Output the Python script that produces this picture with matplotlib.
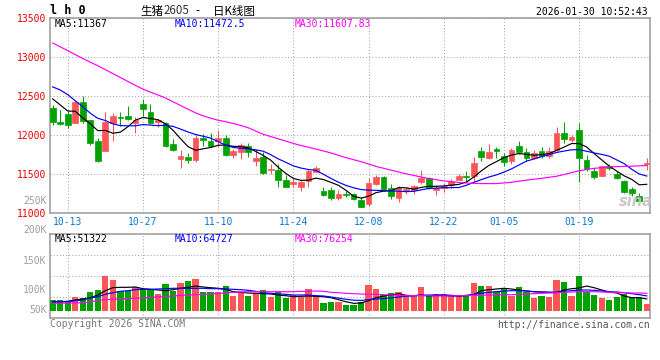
import matplotlib
matplotlib.use("Agg")
import matplotlib.pyplot as plt

plt.rcParams['font.family'] = ['DejaVu Sans Mono']

# ---------------- data ----------------
dates = ["10-09", "10-10", "10-13", "10-14", "10-15", "10-16", "10-17", "10-20", "10-21", "10-22",
         "10-23", "10-24", "10-27", "10-28", "10-29", "10-30", "10-31", "11-03", "11-04", "11-05",
         "11-06", "11-07", "11-10", "11-11", "11-12", "11-13", "11-14", "11-17", "11-18", "11-19",
         "11-20", "11-21", "11-24", "11-25", "11-26", "11-27", "11-28", "12-01", "12-02", "12-03",
         "12-04", "12-05", "12-08", "12-09", "12-10", "12-11", "12-12", "12-15", "12-16", "12-17",
         "12-18", "12-19", "12-22", "12-23", "12-24", "12-25", "12-26", "12-29", "12-30", "12-31",
         "01-05", "01-06", "01-07", "01-08", "01-09", "01-12", "01-13", "01-14", "01-15", "01-16",
         "01-19", "01-20", "01-21", "01-22", "01-23", "01-26", "01-27", "01-28", "01-29", "01-30"]

opens = [12338, 12162, 12261, 12150, 12415, 12184, 11915, 11791, 12145, 12231,
         12235, 12150, 12389, 12286, 12158, 12145, 11876, 11688, 11722, 11675,
         11957, 11923, 11915, 11953, 11739, 11774, 11859, 11667, 11722, 11551,
         11556, 11427, 11376, 11338, 11410, 11530, 11286, 11299, 11188, 11248,
         11248, 11171, 11120, 11376, 11462, 11325, 11188, 11282, 11291, 11393,
         11453, 11295, 11325, 11355, 11427, 11479, 11470, 11799, 11701, 11816,
         11731, 11662, 11863, 11782, 11709, 11799, 11726, 11803, 12017, 11932,
         12056, 11684, 11543, 11470, 11607, 11504, 11410, 11303, 11218, 11624]
highs = [12380, 12316, 12308, 12427, 12492, 12190, 11953, 12286, 12278, 12286,
         12363, 12231, 12457, 12393, 12201, 12167, 11940, 11812, 11765, 11996,
         12009, 12017, 12060, 12000, 11816, 11889, 11889, 11816, 11774, 11624,
         11624, 11487, 11462, 11423, 11560, 11603, 11329, 11329, 11295, 11278,
         11261, 11205, 11444, 11483, 11474, 11376, 11342, 11329, 11359, 11555,
         11462, 11359, 11389, 11440, 11504, 11538, 11718, 11838, 11876, 11838,
         11765, 11829, 11927, 11825, 11808, 11846, 11838, 12094, 12158, 11996,
         12145, 11744, 11581, 11607, 11632, 11538, 11419, 11333, 11261, 11701]
lows = [12124, 12124, 12085, 12145, 12145, 11868, 11650, 11791, 11915, 12115,
        12188, 12017, 12244, 12137, 12103, 11846, 11799, 11573, 11637, 11654,
        11859, 11838, 11838, 11735, 11705, 11688, 11722, 11598, 11504, 11504,
        11338, 11333, 11338, 11282, 11338, 11526, 11218, 11162, 11162, 11205,
        11162, 11073, 11090, 11359, 11282, 11175, 11145, 11248, 11248, 11367,
        11312, 11230, 11274, 11325, 11418, 11402, 11402, 11667, 11688, 11709,
        11598, 11632, 11752, 11671, 11692, 11701, 11701, 11799, 11897, 11906,
        11397, 11538, 11432, 11470, 11547, 11432, 11261, 11214, 11150, 11547]
closes = [12162, 12137, 12124, 12415, 12175, 11893, 11667, 12158, 12235, 12209,
          12197, 12192, 12329, 12150, 12184, 11859, 11803, 11735, 11675, 11957,
          11932, 11855, 11953, 11748, 11799, 11868, 11774, 11701, 11513, 11560,
          11427, 11338, 11402, 11402, 11538, 11581, 11235, 11197, 11248, 11231,
          11175, 11077, 11389, 11457, 11303, 11214, 11325, 11303, 11350, 11444,
          11325, 11325, 11346, 11410, 11479, 11462, 11645, 11718, 11786, 11795,
          11658, 11812, 11774, 11709, 11765, 11726, 11799, 12021, 11940, 11974,
          11701, 11568, 11462, 11607, 11573, 11453, 11273, 11261, 11150, 11641]

ma5 = [12459, 12382, 12304, 12301, 12215, 12140, 12053, 12056, 12020, 12034,
       12103, 12188, 12222, 12208, 12193, 12141, 12058, 11950, 11848, 11802,
       11821, 11838, 11866, 11870, 11853, 11849, 11834, 11787, 11736, 11675,
       11584, 11506, 11442, 11418, 11419, 11446, 11428, 11392, 11354, 11290,
       11215, 11190, 11215, 11260, 11280, 11284, 11325, 11322, 11305, 11327,
       11341, 11341, 11346, 11356, 11366, 11395, 11460, 11539, 11608, 11657,
       11707, 11741, 11760, 11750, 11738, 11747, 11759, 11800, 11843, 11888,
       11888, 11844, 11760, 11680, 11600, 11536, 11475, 11430, 11360, 11367]
ma10 = [12613, 12573, 12514, 12435, 12359, 12276, 12210, 12183, 12140, 12117,
        12115, 12115, 12131, 12124, 12117, 12122, 12108, 12073, 12036, 12004,
        11982, 11958, 11912, 11867, 11838, 11828, 11820, 11808, 11790, 11745,
        11692, 11648, 11603, 11575, 11556, 11546, 11495, 11442, 11394, 11353,
        11323, 11300, 11292, 11290, 11287, 11283, 11278, 11273, 11277, 11296,
        11313, 11318, 11324, 11324, 11326, 11354, 11392, 11427, 11460, 11487,
        11523, 11564, 11614, 11663, 11691, 11721, 11747, 11774, 11792, 11808,
        11810, 11790, 11768, 11749, 11727, 11679, 11631, 11559, 11499, 11472.5]
ma30 = [13174, 13125, 13076, 13025, 12975, 12929, 12883, 12833, 12783, 12733,
        12682, 12632, 12584, 12546, 12509, 12471, 12422, 12375, 12327, 12281,
        12242, 12213, 12186, 12167, 12145, 12120, 12090, 12048, 12006, 11977,
        11948, 11919, 11890, 11864, 11841, 11818, 11793, 11768, 11737, 11708,
        11682, 11657, 11626, 11595, 11572, 11548, 11524, 11501, 11481, 11460,
        11441, 11426, 11411, 11400, 11390, 11384, 11379, 11376, 11376, 11376,
        11384, 11393, 11406, 11420, 11432, 11443, 11457, 11470, 11492, 11517,
        11539, 11556, 11571, 11580, 11590, 11593, 11596, 11599, 11603, 11607.83]

volume = [46800, 46800, 36700, 58600, 54200, 81700, 90500, 151600, 134200, 86100,
          86100, 102300, 90500, 94800, 71700, 116700, 86100, 122400, 129800, 138500,
          83000, 83000, 80400, 107900, 64200, 80400, 65600, 76000, 90500, 61200,
          83000, 56800, 68600, 61200, 93500, 64200, 35000, 38000, 38000, 24900,
          24900, 39300, 112300, 94800, 68600, 76000, 81700, 68600, 65600, 103600,
          68600, 71700, 71700, 65600, 65600, 65600, 122400, 107900, 107900, 83000,
          93500, 65600, 103600, 83000, 54200, 65600, 61200, 134200, 126700, 65600,
          151600, 80400, 68600, 55500, 46800, 61200, 71700, 54200, 58600, 29300]
vol_ma5 = [39300, 39300, 41100, 46800, 51100, 56800, 68600, 87400, 100500, 102200,
           102200, 103600, 96100, 93500, 90500, 87400, 91800, 97900, 102200, 107900,
           103600, 100500, 97900, 93500, 83000, 80400, 77300, 76000, 74300, 73000,
           68600, 65600, 61200, 62900, 64200, 62900, 61200, 56800, 48100, 39300,
           32300, 33600, 43700, 56800, 64200, 68600, 74300, 67300, 65600, 68600,
           64200, 67300, 67300, 64200, 64200, 65600, 69900, 87400, 91800, 94800,
           97900, 94800, 90500, 86100, 83000, 81700, 80400, 78700, 90500, 96100,
           99200, 107900, 100500, 90500, 81700, 77300, 64200, 56800, 56800, 51322]
vol_ma10 = [39300, 39300, 39300, 43700, 46800, 55500, 61200, 71700, 78700, 84800,
            87400, 91800, 93500, 93500, 94800, 96100, 97900, 97900, 97900, 97900,
            97900, 96100, 96100, 94800, 93500, 91800, 89100, 84800, 78700, 76000,
            73000, 71700, 68600, 68600, 68600, 65600, 64200, 60000, 55000, 50000,
            46000, 45000, 48000, 51000, 53000, 56000, 59900, 62900, 65600, 67300,
            68600, 68600, 68600, 67300, 64200, 67300, 71700, 76000, 80400, 83000,
            86100, 87400, 87400, 86100, 83000, 81700, 80400, 81700, 84800, 87400,
            90500, 90500, 89100, 86100, 83000, 81700, 78700, 74300, 69900, 64727]
vol_ma30 = [32300, 32300, 33600, 33600, 35000, 38000, 45400, 48100, 49800, 51100,
            52400, 54200, 55500, 58600, 59900, 62900, 64200, 67300, 68600, 69900,
            71700, 73000, 76000, 77300, 80400, 81700, 83000, 83000, 83000, 83000,
            83000, 83000, 83000, 84800, 84800, 86100, 84800, 80400, 78700, 76000,
            74300, 73000, 71700, 71700, 69900, 68600, 67300, 65600, 65600, 65600,
            65600, 64200, 64200, 64200, 65600, 65600, 67300, 67300, 68600, 68600,
            69900, 69900, 71700, 73000, 74300, 76000, 77300, 78700, 80400, 81700,
            83000, 83000, 83000, 81700, 80400, 78700, 78700, 77300, 77300, 76254]

date_tick_labels = ["10-13", "10-27", "11-10", "11-24", "12-08", "12-22", "01-05", "01-19"]
price_ticks = [11000, 11500, 12000, 12500, 13000, 13500]
vol_tick_labels = ["250K", "200K", "150K", "100K", "50K"]

symbol = "l h 0"
title_name = "生猪"
title_code = "2605"
title_kind = "日K线图"
timestamp = "2026-01-30 10:52:43"
price_ma_text = ["MA5:11367", "MA10:11472.5", "MA30:11607.83"]
vol_ma_text = ["MA5:51322", "MA10:64727", "MA30:76254"]
copyright_text = "Copyright 2026 SINA.COM"
url_text = "http://finance.sina.com.cn"

# ---------------- style ----------------
W, H = 660, 360
RED = "#fa5656"
GREEN = "#00a200"
MA_COLORS = ["#000000", "#0000ff", "#ff00ff"]
GRID = "#a8a8a8"
SPINE = "#9a9a9a"
FS = 7


def fx(px):
    return px / W


def fy(py):
    return 1 - py / H


fig = plt.figure(figsize=(W / 100, H / 100), dpi=100)
fig.patch.set_facecolor("white")

P_TOP, P_BOT = 17.5, 213.0
V_TOP, V_BOT = 234.3, 317.7
LEFT, RIGHT = 50.0, 650.0

ax = fig.add_axes([fx(LEFT), fy(P_BOT), (RIGHT - LEFT) / W, (P_BOT - P_TOP) / H])
axv = fig.add_axes([fx(LEFT), fy(V_BOT), (RIGHT - LEFT) / W, (V_BOT - V_TOP) / H])

n = len(dates)
xs = list(range(n))
step_px = 7.52
x_left = -(52.7 - LEFT) / step_px
x_right = (RIGHT - 52.7) / step_px

colors = [RED if c >= o else GREEN for o, c in zip(opens, closes)]

# ---- price panel ----
ax.vlines(xs, lows, highs, colors=colors, linewidth=0.75, zorder=3)
body_bottom = [min(o, c) for o, c in zip(opens, closes)]
body_height = [abs(c - o) for o, c in zip(opens, closes)]
ax.bar(xs, body_height, bottom=body_bottom, width=0.76, color=colors,
       edgecolor=colors, linewidth=0.5, zorder=4)
for series, col in zip([ma5, ma10, ma30], MA_COLORS):
    ax.plot(xs, series, color=col, linewidth=0.85, zorder=5)

ax.set_xlim(x_left, x_right)
ax.set_ylim(price_ticks[0], price_ticks[-1])
tick_pos = [dates.index(d) for d in date_tick_labels]
ax.set_xticks(tick_pos)
ax.set_xticklabels(date_tick_labels)
ax.set_yticks(price_ticks)
ax.set_yticklabels([str(t) for t in price_ticks])
ax.tick_params(axis="x", length=0, pad=3.2, labelsize=FS, labelcolor="#0a78d2")
ax.tick_params(axis="y", length=0, pad=2.9, labelsize=FS, labelcolor="#ee0000")
ax.grid(True, color=GRID, linestyle=(0, (1, 2)), linewidth=0.75, zorder=0)
ax.set_axisbelow(True)
for s in ax.spines.values():
    s.set_color(SPINE)
    s.set_linewidth(1.1)

# ---- volume panel ----
vol_px = 4370.0
axv.bar(xs, volume, width=0.84, color=colors, linewidth=0, zorder=3)
for series, col in zip([vol_ma5, vol_ma10, vol_ma30], MA_COLORS):
    axv.plot(xs, series, color=col, linewidth=0.85, zorder=5)
axv.set_xlim(x_left, x_right)
v_lo = -(V_BOT - 310.7) * vol_px
v_hi = (310.7 - V_TOP) * vol_px
axv.set_ylim(v_lo, v_hi)
axv.set_xticks(tick_pos)
axv.set_xticklabels([])
axv.set_yticks([v_lo + (v_hi - v_lo) * k / 4 for k in (1, 2, 3)])
axv.set_yticklabels([])
axv.tick_params(length=0)
axv.grid(True, color=GRID, linestyle=(0, (1, 2)), linewidth=0.75, zorder=0)
axv.set_axisbelow(True)
for s in axv.spines.values():
    s.set_color(SPINE)
    s.set_linewidth(1.1)

# volume labels (Sina places them at fixed rows)
for lab, ypx in zip(vol_tick_labels, [201, 230.5, 260.5, 290, 310]):
    fig.text(fx(46.5), fy(ypx), lab, ha="right", va="center", fontsize=FS, color="#a0a0a0")

# ---- header ----
fig.text(fx(50.5), fy(11), symbol, ha="left", va="center", fontsize=8.5,
         fontweight="bold", color="black")
cjk = ["Noto Sans CJK SC", "DejaVu Sans"]
fig.text(fx(140), fy(11), title_name, ha="left", va="center", fontsize=8.3,
         family=cjk, color="black")
fig.text(fx(164), fy(11), title_code, ha="left", va="center", fontsize=8.3,
         family=cjk, color="#333333")
fig.text(fx(195), fy(11), "-", ha="left", va="center", fontsize=8.3,
         family=cjk, color="black")
fig.text(fx(213), fy(11), title_kind, ha="left", va="center", fontsize=8.3,
         family=cjk, color="black")
fig.text(fx(648), fy(12), timestamp, ha="right", va="center", fontsize=FS, color="black")

for txt, col, xp in zip(price_ma_text, MA_COLORS, [55, 175, 295]):
    fig.text(fx(xp), fy(24), txt, ha="left", va="center", fontsize=FS, color=col)
for txt, col, xp in zip(vol_ma_text, MA_COLORS, [55, 175, 295]):
    fig.text(fx(xp), fy(238.5), txt, ha="left", va="center", fontsize=FS, color=col)

# watermark
fig.text(fx(619), fy(201), "sina", ha="left", va="center", fontsize=10.5,
         fontstyle="italic", fontweight="bold", color="#c4c4c4",
         family=["DejaVu Sans"], alpha=0.9)

# footer
fig.text(fx(50), fy(324), copyright_text, ha="left", va="center", fontsize=FS, color="#7a7a7a")
fig.text(fx(649.5), fy(324.5), url_text, ha="right", va="center", fontsize=FS, color="#555555")

fig.savefig("out.png", dpi=100, facecolor="white")
